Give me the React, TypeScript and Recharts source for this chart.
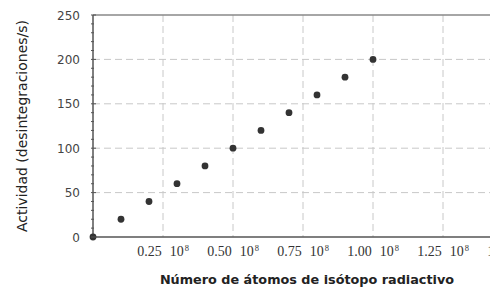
import React from "react";
import { ScatterChart, Scatter, XAxis, YAxis, CartesianGrid } from "recharts";

const atoms = [0, 0.1, 0.2, 0.3, 0.4, 0.5, 0.6, 0.7, 0.8, 0.9, 1.0];
const activity = [0, 20, 40, 60, 80, 100, 120, 140, 160, 180, 200];
const xTicks = [0.25, 0.5, 0.75, 1.0, 1.25, 1.5];
const yTicks = [0, 10, 20, 30, 40, 50, 60, 70, 80, 90, 100, 110, 120, 130, 140, 150, 160, 170, 180, 190, 200, 210, 220, 230, 240, 250];
const yLabeled = [0, 50, 100, 150, 200, 250];
const exponent = "8";

const data = atoms.map((x, i) => ({ x, y: activity[i] }));

const XTick = (props: any) => {
  const { x, y, payload } = props;
  return (
    <text x={x} y={y + 11} textAnchor="middle" fontFamily="Liberation Serif" fontSize={14} fill="#333">
      {payload.value.toFixed(2)}
      <tspan dx={8}>10</tspan>
      <tspan dx={1} dy={-5} fontSize={8.5}>{exponent}</tspan>
    </text>
  );
};

const YTick = (props: any) => {
  const { x, y, payload } = props;
  const v = payload.value;
  const labeled = yLabeled.includes(v);
  const ax = x + 6; // axis position
  return (
    <g>
      <line x1={ax} x2={ax + (labeled ? 5 : 3)} y1={y} y2={y} stroke="#555" strokeWidth={1} />
      {labeled && (
        <text x={ax - 11} y={y + 4.5} textAnchor="end" fontFamily="DejaVu Sans" fontSize={12} fill="#444">
          {v}
        </text>
      )}
    </g>
  );
};

export default function App() {
  return (
    <div style={{ width: 490, height: 282, overflow: "hidden" }}>
      <ScatterChart width={520} height={282} margin={{ top: 7, right: 15, bottom: 23, left: 25 }}>
        <CartesianGrid
          horizontalValues={[50, 100, 150, 200]}
          verticalValues={xTicks}
          stroke="#c8c8c8"
          strokeDasharray="7 4"
        />
        <XAxis
          type="number"
          dataKey="x"
          domain={[0, 1.5]}
          ticks={xTicks}
          tick={<XTick />}
          tickLine={false}
          axisLine={{ stroke: "#555", strokeWidth: 1.5 }}
          interval={0}
          height={30}
          label={{
            value: "Número de átomos de isótopo radiactivo",
            position: "bottom",
            offset: 8,
            dx: 4,
            style: { fontFamily: "DejaVu Sans", fontSize: 12.8, fontWeight: "bold", fill: "#222" },
          }}
        />
        <YAxis
          type="number"
          dataKey="y"
          domain={[0, 250]}
          ticks={yTicks}
          tick={<YTick />}
          tickLine={false}
          tickSize={6}
          interval={0}
          width={60}
          axisLine={{ stroke: "#555", strokeWidth: 1.5 }}
          label={{
            value: "Actividad (desintegraciones/s)",
            angle: -90,
            position: "insideLeft",
            offset: -11,
            style: { textAnchor: "middle", fontFamily: "DejaVu Sans", fontSize: 14, fill: "#222" },
          }}
        />
        <Scatter
          data={data}
          fill="#333"
          isAnimationActive={false}
          shape={(p: any) => <circle cx={p.cx} cy={p.cy} r={3.4} fill="#333" />}
        />
        <line x1={85} x2={505} y1={7} y2={7} stroke="#888" strokeWidth={1.5} />
      </ScatterChart>
    </div>
  );
}
